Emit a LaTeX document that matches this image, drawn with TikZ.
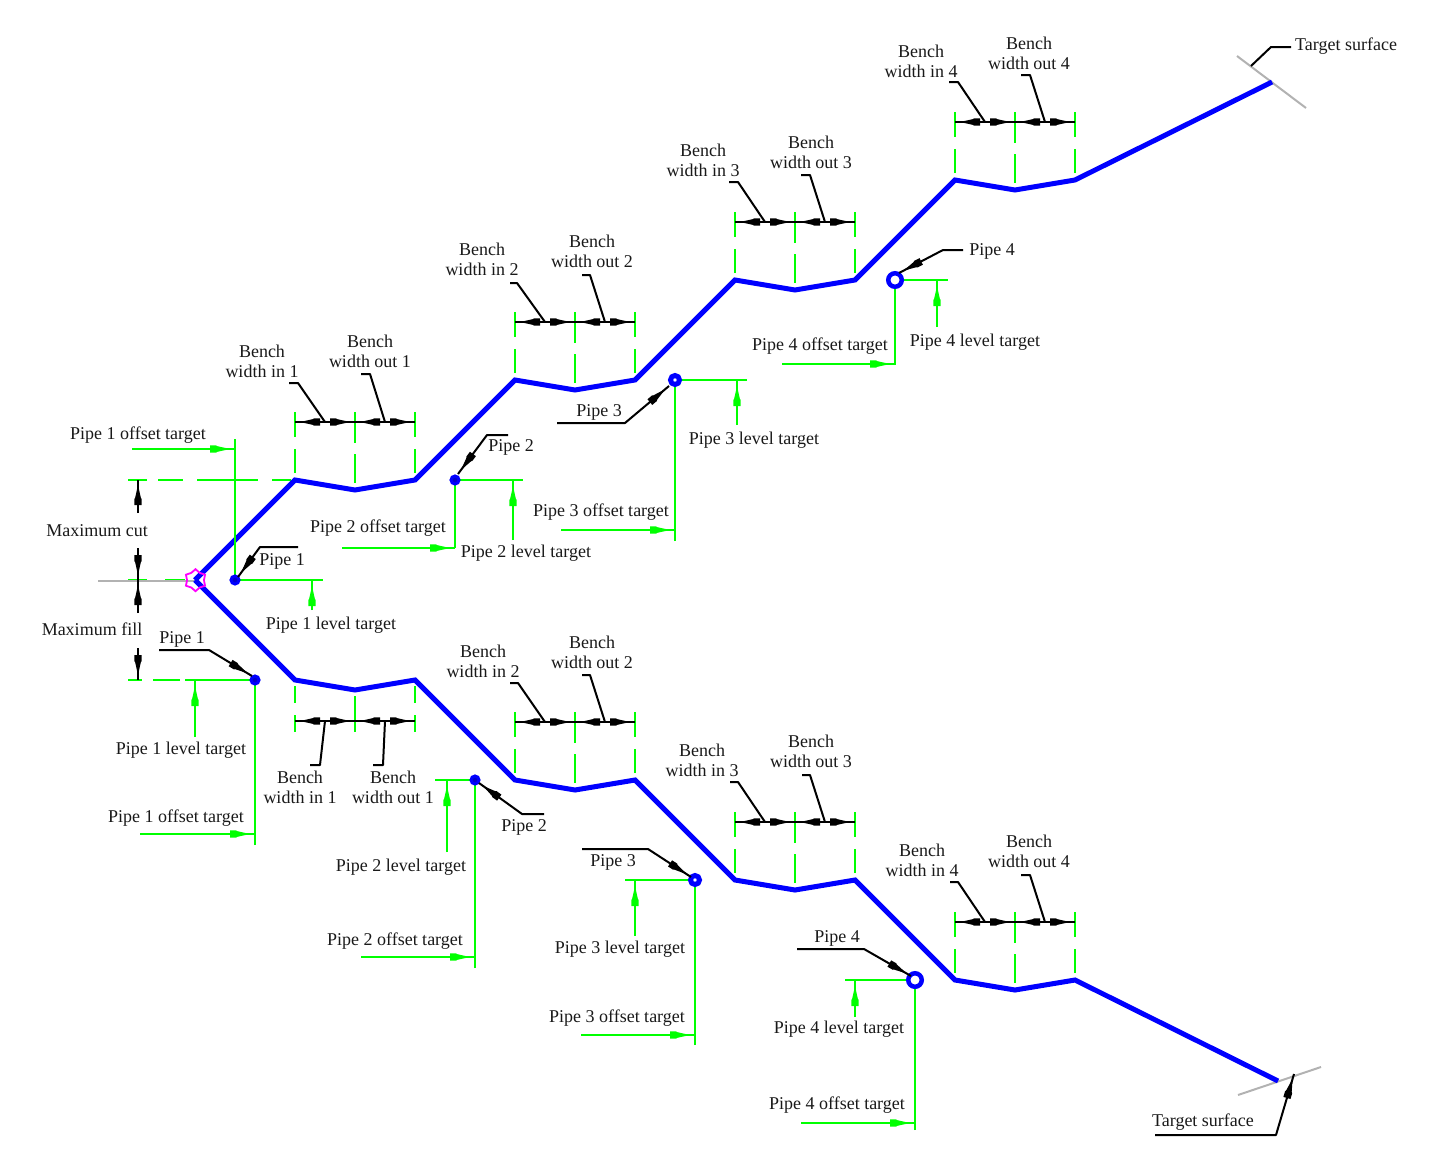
\documentclass[tikz,border=0pt]{standalone}
\usepackage{fontspec}
\setmainfont{Liberation Serif}
\usetikzlibrary{shapes.geometric}
\definecolor{cadgreen}{RGB}{0,255,0}
\definecolor{cadblue}{RGB}{0,0,255}
\definecolor{cadgray}{RGB}{178,178,178}
\definecolor{cadmag}{RGB}{255,0,255}
\definecolor{cadtext}{RGB}{25,25,25}
\tikzset{
  profile/.style={draw=cadblue,line width=5pt,line join=miter},
  tick/.style={draw=cadgreen,line width=2.2pt},
  gline/.style={draw=cadgreen,line width=2.2pt},
  leader/.style={draw=black,line width=2pt,line join=round},
  dimline/.style={draw=black,line width=1.2pt},
  surface/.style={draw=cadgray,line width=2pt},
  lab/.style={font=\fontsize{18}{20}\selectfont,text=cadtext,inner sep=0pt,align=center,yshift=-2.5pt},
  benchlab/.style={lab,yshift=2pt},
  pipesm/.style={circle,draw=cadblue,fill=cadblue!80!black,line width=3pt,minimum size=8pt,inner sep=0pt},
  pipemd/.style={circle,draw=cadblue,fill=white,line width=5pt,minimum size=9pt,inner sep=0pt},
  pipelg/.style={circle,draw=cadblue,fill=white,line width=4.5pt,minimum size=13.5pt,inner sep=0pt},
  origin/.style={star,star points=6,star point ratio=1.3,draw=cadmag,line width=1.8pt,minimum size=22pt,inner sep=0pt}
}
% arrowhead: #1 colour, #2 from, #3 to (the thin tip stops 5 short of #3)
\newcommand{\cadtip}[3]{%
  \coordinate (cadA) at #2; \coordinate (cadB) at #3;
  \pgfmathanglebetweenpoints{\pgfpointanchor{cadA}{center}}{\pgfpointanchor{cadB}{center}}%
  \let\cadang\pgfmathresult
  \fill[#1,shift={(cadB)},rotate=\cadang,x=1pt,y=1pt]
    (-5,0) -- (-18,2.9) -- (-19,3.7) -- (-25,3.7) -- (-25,-3.7) -- (-19,-3.7) -- (-18,-2.9) -- cycle;
}
\newcommand{\garrow}[2]{\draw[draw=cadgreen,line width=2pt] #1 -- #2; \cadtip{cadgreen}{#1}{#2}}
\newcommand{\darrow}[2]{\draw[dimline] #1 -- #2; \cadtip{black}{#1}{#2}}
\newcommand{\larrow}[3]{\draw[leader] #1 -- #2 -- #3; \cadtip{black}{#2}{#3}}
% #1 prefix, #2 X, #3 dimension y
\newcommand{\dimrow}[3]{%
  \coordinate (#1a) at (#2,#3); \coordinate (#1b) at (#2+60,#3); \coordinate (#1c) at (#2+120,#3);
  \coordinate (#1ai) at (#2+25,#3); \coordinate (#1bi) at (#2+35,#3);
  \coordinate (#1ci) at (#2+85,#3); \coordinate (#1di) at (#2+95,#3);
  \draw[dimline] (#1a) -- (#1b) -- (#1c);
  \cadtip{black}{(#1ai)}{(#1a)}
  \cadtip{black}{(#1bi)}{(#1b)}
  \cadtip{black}{(#1ci)}{(#1b)}
  \cadtip{black}{(#1di)}{(#1c)}
}
\newcommand{\benchticks}[2]{% X, profile y of first vertex
  \draw[tick] (#1,#2-68) -- (#1,#2-43) (#1,#2-31) -- (#1,#2-7);
  \draw[tick] (#1+60,#2-68) -- (#1+60,#2-37) (#1+60,#2-26) -- (#1+60,#2+3);
  \draw[tick] (#1+120,#2-68) -- (#1+120,#2-43) (#1+120,#2-31) -- (#1+120,#2-7);
}
\begin{document}
\begin{tikzpicture}[x=1pt,y=-1pt]
\useasboundingbox (0,0) rectangle (1436,1167);
% ---------- green construction: benches
\benchticks{295}{480}
\benchticks{515}{380}
\benchticks{735}{280}
\benchticks{955}{180}
\benchticks{515}{780}
\benchticks{735}{880}
\benchticks{955}{980}
\draw[tick] (295,686) -- (295,703) (295,715) -- (295,732);
\draw[tick] (355,696) -- (355,732);
\draw[tick] (415,686) -- (415,703) (415,715) -- (415,732);
% ---------- green limits
\draw[gline] (128,480) -- (147,480) (158,480) -- (183,480) (197,480) -- (258,480) (272,480) -- (291,480);
\draw[gline] (128,580) -- (147,580) (165,580) -- (185,580);
\draw[gline] (128,680) -- (142,680) (153,680) -- (180,680) (185,680) -- (255,680);
% ---------- gray surfaces
\draw[surface] (98,581) -- (195,581);
\draw[surface] (1237,56) -- (1306,108);
\draw[surface] (1238,1095) -- (1321,1067);
% ---------- max cut / fill
\coordinate (mc1) at (138,513); \coordinate (mc1t) at (138,480);
\coordinate (mc2) at (138,548); \coordinate (mc2t) at (138,580);
\coordinate (mf1) at (138,613); \coordinate (mf1t) at (138,580);
\coordinate (mf2) at (138,648); \coordinate (mf2t) at (138,680);
\darrow{(mc1)}{(mc1t)}
\darrow{(mc2)}{(mc2t)}
\darrow{(mf1)}{(mf1t)}
\darrow{(mf2)}{(mf2t)}
\node[lab] (tmc) at (97,528) {Maximum cut};
\node[lab] (tmf) at (92,627) {Maximum fill};
% ---------- profiles
\draw[profile] (195,580) -- (295,480) -- (355,490) -- (415,480) -- (515,380) -- (575,390) -- (635,380) -- (735,280) -- (795,290) -- (855,280) -- (955,180) -- (1015,190) -- (1075,180) -- (1272,82);
\draw[profile] (195,580) -- (295,680) -- (355,690) -- (415,680) -- (515,780) -- (575,790) -- (635,780) -- (735,880) -- (795,890) -- (855,880) -- (955,980) -- (1015,990) -- (1075,980) -- (1278,1081);
\node[origin] (o) at (195.5,580.2) {};
% ---------- dimension rows
\dimrow{ta}{295}{422}
\dimrow{tb}{515}{322}
\dimrow{tc}{735}{222}
\dimrow{td}{955}{122}
\dimrow{ba}{295}{721}
\dimrow{bb}{515}{722}
\dimrow{bc}{735}{822}
\dimrow{bd}{955}{922}
% ---------- bench labels, top
\node[benchlab] (tai) at (262,361) {Bench\\width in 1};
\node[benchlab] (tao) at (370,351) {Bench\\width out 1};
\node[benchlab] (tbi) at (482,259) {Bench\\width in 2};
\node[benchlab] (tbo) at (592,251) {Bench\\width out 2};
\node[benchlab] (tci) at (703,160) {Bench\\width in 3};
\node[benchlab] (tco) at (811,152) {Bench\\width out 3};
\node[benchlab] (tdi) at (921,61) {Bench\\width in 4};
\node[benchlab] (tdo) at (1029,53) {Bench\\width out 4};
\draw[leader] (289,383) -- (298,383) -- (325,422);
\draw[leader] (361,374) -- (370,374) -- (385,422);
\draw[leader] (510,283) -- (517,283) -- (545,322);
\draw[leader] (582,275) -- (590,275) -- (605,322);
\draw[leader] (729,182) -- (738,182) -- (765,222);
\draw[leader] (801,175) -- (810,175) -- (825,222);
\draw[leader] (949,82) -- (958,82) -- (985,122);
\draw[leader] (1021,75) -- (1030,75) -- (1045,122);
% ---------- bench labels, bottom
\node[benchlab] (bai) at (300,787) {Bench\\width in 1};
\node[benchlab] (bao) at (393,787) {Bench\\width out 1};
\node[benchlab] (bbi) at (483,661) {Bench\\width in 2};
\node[benchlab] (bbo) at (592,652) {Bench\\width out 2};
\node[benchlab] (bci) at (702,760) {Bench\\width in 3};
\node[benchlab] (bco) at (811,751) {Bench\\width out 3};
\node[benchlab] (bdi) at (922,860) {Bench\\width in 4};
\node[benchlab] (bdo) at (1029,851) {Bench\\width out 4};
\draw[leader] (325,721) -- (320,765) -- (310,765);
\draw[leader] (385,721) -- (383,765) -- (373,765);
\draw[leader] (510,683) -- (518,683) -- (545,722);
\draw[leader] (582,675) -- (590,675) -- (605,722);
\draw[leader] (730,782) -- (738,782) -- (765,822);
\draw[leader] (802,775) -- (810,775) -- (825,822);
\draw[leader] (950,882) -- (958,882) -- (985,922);
\draw[leader] (1021,875) -- (1030,875) -- (1045,922);
% ---------- target surface
\node[lab,anchor=west] (tst) at (1295,44) {Target surface};
\node[lab] (tsb) at (1203,1120) {Target surface};
\draw[leader] (1251,66) -- (1271,47) -- (1291,47);
\larrow{(1155,1135)}{(1276,1135)}{(1294,1074)}
% ---------- top pipes
\coordinate (P1) at (235,580); \coordinate (P2) at (455,480); \coordinate (P3) at (675,380); \coordinate (P4) at (895,280);
% pipe 1
\draw[gline] (235,439) -- (P1) -- (323,580);
\garrow{(132,449)}{(235,449)}
\garrow{(312,610)}{(312,581)}
% pipe 2
\draw[gline] (455,548) -- (P2) -- (523,480);
\garrow{(342,548)}{(455,548)}
\garrow{(513,540)}{(513,481)}
% pipe 3
\draw[gline] (675,541) -- (P3) -- (747,380);
\garrow{(561,530)}{(675,530)}
\garrow{(737,425)}{(737,381)}
% pipe 4
\draw[gline] (895,365) -- (P4) -- (948,280);
\garrow{(782,364)}{(895,364)}
\garrow{(937,327)}{(937,281)}
\node[pipesm] (p1) at (P1) {};
\node[pipesm] (p2) at (P2) {};
\node[pipemd] (p3) at (P3) {};
\node[pipelg] (p4) at (P4) {};
\larrow{(298,547)}{(260,547)}{(238,577)}
\larrow{(508,435)}{(487,435)}{(458,474)}
\larrow{(557,423)}{(625,423)}{(669,386)}
\larrow{(963,250)}{(943,250)}{(899,273)}
\node[lab] (l1) at (138,433) {Pipe 1 offset target};
\node[lab] (l2) at (331,623) {Pipe 1 level target};
\node[lab] (l3) at (282,559) {Pipe 1};
\node[lab] (l4) at (378,526) {Pipe 2 offset target};
\node[lab] (l5) at (526,551) {Pipe 2 level target};
\node[lab] (l6) at (511,445) {Pipe 2};
\node[lab] (l7) at (601,510) {Pipe 3 offset target};
\node[lab] (l8) at (754,438) {Pipe 3 level target};
\node[lab] (l9) at (599,410) {Pipe 3};
\node[lab] (l10) at (820,344) {Pipe 4 offset target};
\node[lab] (l11) at (975,340) {Pipe 4 level target};
\node[lab] (l12) at (992,249) {Pipe 4};
% ---------- bottom pipes
\coordinate (Q1) at (255,680); \coordinate (Q2) at (475,780); \coordinate (Q3) at (695,880); \coordinate (Q4) at (915,980);
\draw[gline] (255,845) -- (Q1);
\garrow{(140,834)}{(255,834)}
\garrow{(195,737)}{(195,681)}
\draw[gline] (475,968) -- (Q2) -- (435,780);
\garrow{(361,957)}{(475,957)}
\garrow{(447,852)}{(447,781)}
\draw[gline] (695,1045) -- (Q3) -- (625,880);
\garrow{(581,1035)}{(695,1035)}
\garrow{(635,936)}{(635,881)}
\draw[gline] (915,1130) -- (Q4) -- (845,980);
\garrow{(801,1123)}{(915,1123)}
\garrow{(855,1017)}{(855,981)}
\node[pipesm] (q1) at (Q1) {};
\node[pipesm] (q2) at (Q2) {};
\node[pipemd] (q3) at (Q3) {};
\node[pipelg] (q4) at (Q4) {};
\larrow{(159,650)}{(209,650)}{(252,676)}
\larrow{(544,814)}{(522,814)}{(479,783)}
\larrow{(582,849)}{(648,849)}{(691,877)}
\larrow{(797,949)}{(864,949)}{(911,976)}
\node[lab] (m1) at (176,816) {Pipe 1 offset target};
\node[lab] (m2) at (181,748) {Pipe 1 level target};
\node[lab] (m3) at (182,637) {Pipe 1};
\node[lab] (m4) at (395,939) {Pipe 2 offset target};
\node[lab] (m5) at (401,865) {Pipe 2 level target};
\node[lab] (m6) at (524,825) {Pipe 2};
\node[lab] (m7) at (617,1016) {Pipe 3 offset target};
\node[lab] (m8) at (620,947) {Pipe 3 level target};
\node[lab] (m9) at (613,860) {Pipe 3};
\node[lab] (m10) at (837,1103) {Pipe 4 offset target};
\node[lab] (m11) at (839,1027) {Pipe 4 level target};
\node[lab] (m12) at (837,936) {Pipe 4};
\end{tikzpicture}
\end{document}
